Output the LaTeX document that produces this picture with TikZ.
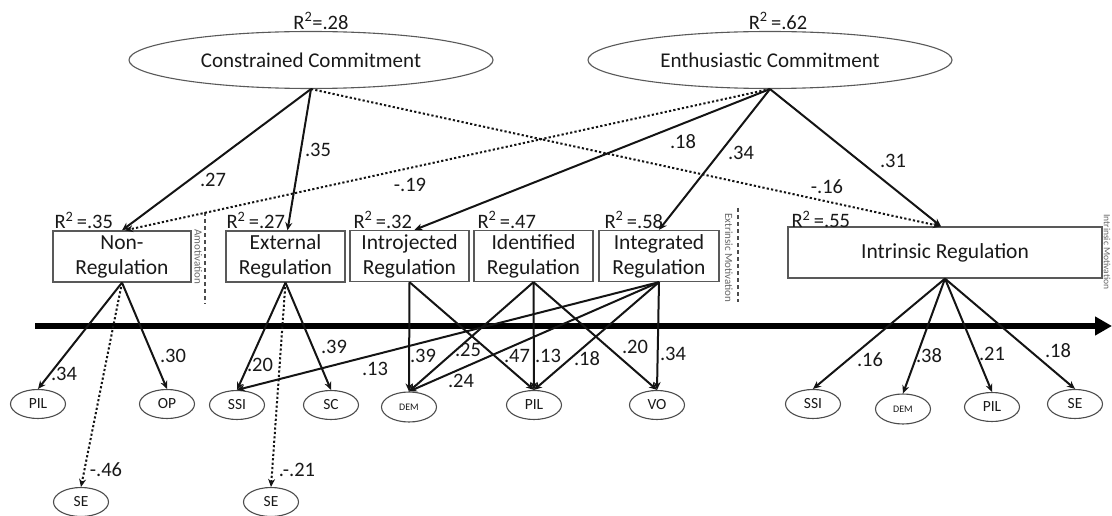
\documentclass[tikz,border=0pt]{standalone}
\usepackage{fontspec}
\setmainfont{Carlito}
\usetikzlibrary{shapes.geometric,arrows.meta}
\begin{document}
\begin{tikzpicture}[x=1pt,y=-1pt,
  every node/.style={text=black!90},
  latent/.style={ellipse, draw=black!65, line width=1.1pt, inner sep=0pt, minimum width=364pt, minimum height=57pt, font=\fontsize{21}{24}\selectfont},
  regbox/.style={rectangle, draw=black!65, line width=1.3pt, align=center, inner sep=0pt, minimum height=51pt, font=\fontsize{21.5}{25}\selectfont},
  ind/.style={ellipse, draw=black!70, line width=1.1pt, minimum width=55pt, minimum height=29pt, inner sep=0pt, font=\fontsize{15.5}{17}\selectfont},
  indsmall/.style={ind, minimum height=30pt, font=\fontsize{10}{11}\selectfont},
  effarrow/.style={line width=2pt, draw=black!92, -{Stealth[length=8pt,width=7pt]}},
  negarrow/.style={effarrow, dash pattern=on 2.2pt off 2.2pt},
  lbl/.style={font=\fontsize{20.5}{22}\selectfont, inner sep=0pt},
  rsq/.style={font=\fontsize{20.5}{22}\selectfont, inner sep=0pt, anchor=south west},
  vsep/.style={line width=1.3pt, draw=black!70, dash pattern=on 4pt off 3pt},
  vtext/.style={rotate=-90, font=\fontsize{11}{12}\selectfont, text=black!60, inner sep=0pt}
]
\useasboundingbox (0,0) rectangle (1112,516);

% main axis
\coordinate (ax0) at (35,326);
\coordinate (ax1) at (1112,326);
\draw[line width=5.5pt, -{Triangle[length=17pt,width=18pt]}] (ax0) -- (ax1);

% latent constructs
\node[latent] (CC) at (311,60) {Constrained Commitment};
\node[latent] (EC) at (770,60) {Enthusiastic Commitment};
\node[lbl] (rCC) at (321,21) {R\textsuperscript{2}=.28};
\node[lbl] (rEC) at (778,21) {R\textsuperscript{2}\,=.62};

% regulation boxes
\node[regbox, minimum width=138pt] (NR) at (122,256.5) {Non-\\Regulation};
\node[regbox, minimum width=119pt] (ER) at (285.5,256.5) {External\\Regulation};
\node[regbox, minimum width=119pt] (IJ) at (409.5,256) {Introjected\\Regulation};
\node[regbox, minimum width=119pt] (ID) at (533.5,256) {Identified\\Regulation};
\node[regbox, minimum width=120pt] (IG) at (659,256) {Integrated\\Regulation};
\node[regbox, minimum width=314pt] (IN) at (945,252.5) {Intrinsic Regulation};

\node[rsq] (rNR) at ([xshift=2pt,yshift=1pt]NR.north west) {R\textsuperscript{2}\,=.35};
\node[rsq] (rER) at ([xshift=1pt,yshift=1pt]ER.north west) {R\textsuperscript{2}\,=.27};
\node[rsq] (rIJ) at ([xshift=4pt,yshift=1pt]IJ.north west) {R\textsuperscript{2}\,=.32};
\node[rsq] (rID) at ([xshift=4pt,yshift=1pt]ID.north west) {R\textsuperscript{2}\,=.47};
\node[rsq] (rIG) at ([xshift=6pt,yshift=1pt]IG.north west) {R\textsuperscript{2}\,=.58};
\node[rsq] (rIN) at ([xshift=4pt,yshift=-2pt]IN.north west) {R\textsuperscript{2}\,=.55};

% motivation separators
\coordinate (am1) at (205,212);
\coordinate (am2) at (205,304);
\draw[vsep] (am1) -- (am2);
\node[vtext] (amot) at (198.5,257) {Amotivation};
\coordinate (ex1) at (738,208);
\coordinate (ex2) at (738,302);
\draw[vsep] (ex1) -- (ex2);
\node[vtext] (extr) at (729,258) {Extrinsic Motivation};
\node[vtext, font=\fontsize{9.5}{10}\selectfont] (intr) at (1107,252) {Intrinsic Motivation};

% indicators
\node[ind] (PILa) at (38,404) {PIL};
\node[ind] (OP) at (167,404) {OP};
\node[ind] (SSIa) at (237,405) {SSI};
\node[ind] (SC) at (331,405) {SC};
\node[indsmall] (DEMa) at (409,407) {DEM};
\node[ind] (PILb) at (534,405) {PIL};
\node[ind] (VO) at (657,405) {VO};
\node[ind] (SSIb) at (813,404) {SSI};
\node[indsmall] (DEMb) at (903,409) {DEM};
\node[ind] (PILc) at (992,407) {PIL};
\node[ind] (SEc) at (1075,404) {SE};
\node[ind] (SEa) at (81,502) {SE};
\node[ind] (SEb) at (271,502) {SE};

% commitment -> regulation
\draw[effarrow] (CC.south) -- (NR.north);
\draw[effarrow] (CC.south) -- ([xshift=2pt]ER.north);
\draw[negarrow] (CC.south) -- ([xshift=-4pt]IN.north);
\draw[negarrow] (EC.south) -- ([xshift=3pt]NR.north);
\draw[effarrow] (EC.south) -- ([xshift=5pt]IJ.north);
\draw[effarrow] (EC.south) -- (IG.north);
\draw[effarrow] (EC.south) -- ([xshift=-4pt]IN.north);

\node[lbl] (l27) at (213,180) {.27};
\node[lbl] (l35) at (318,150) {.35};
\node[lbl] (l19) at (410,185) {-.19};
\node[lbl] (l18t) at (683,142) {.18};
\node[lbl] (l34t) at (741,153) {.34};
\node[lbl] (l31) at (893,161) {.31};
\node[lbl] (l16t) at (827,187) {-.16};

% regulation -> indicators
\draw[effarrow] (NR.south) -- (PILa.north);
\draw[effarrow] (NR.south) -- (OP.north);
\draw[negarrow] (NR.south) -- (SEa.north);
\draw[effarrow] (ER.south) -- (SSIa.north);
\draw[effarrow] (ER.south) -- (SC.north);
\draw[negarrow] (ER.south) -- (SEb.north);
\draw[effarrow] (IJ.south) -- (DEMa.north);
\draw[effarrow] (IJ.south) -- (PILb.north);
\draw[effarrow] (ID.south) -- (DEMa.north);
\draw[effarrow] (ID.south) -- (PILb.north);
\draw[effarrow] (ID.south) -- (VO.north);
\draw[effarrow] (IG.south) -- (SSIa.north);
\draw[effarrow] (IG.south) -- (DEMa.north);
\draw[effarrow] (IG.south) -- (PILb.north);
\draw[effarrow] (IG.south) -- (VO.north);
\draw[effarrow] (IN.south) -- (SSIb.north);
\draw[effarrow] (IN.south) -- (DEMb.north);
\draw[effarrow] (IN.south) -- (PILc.north);
\draw[effarrow] (IN.south) -- (SEc.north);

\node[lbl] (b34) at (64,374) {.34};
\node[lbl] (b30) at (173,356) {.30};
\node[lbl] (b46) at (106,470) {-.46};
\node[lbl] (b20) at (260,365) {.20};
\node[lbl] (b39) at (334,347) {.39};
\node[lbl] (b21) at (297,470) {.-.21};
\node[lbl] (b13a) at (375,369) {.13};
\node[lbl] (b39b) at (423,356) {.39};
\node[lbl] (b25) at (468,350) {.25};
\node[lbl] (b24) at (461,381) {.24};
\node[lbl] (b47) at (517,356) {.47};
\node[lbl] (b13b) at (548,356) {.13};
\node[lbl] (b18) at (587,359) {.18};
\node[lbl] (b20b) at (635,347) {.20};
\node[lbl] (b34b) at (673,354) {.34};
\node[lbl] (b16) at (870,360) {.16};
\node[lbl] (b38) at (929,356) {.38};
\node[lbl] (b21b) at (992,354) {.21};
\node[lbl] (b18b) at (1058,351) {.18};
\end{tikzpicture}
\end{document}
